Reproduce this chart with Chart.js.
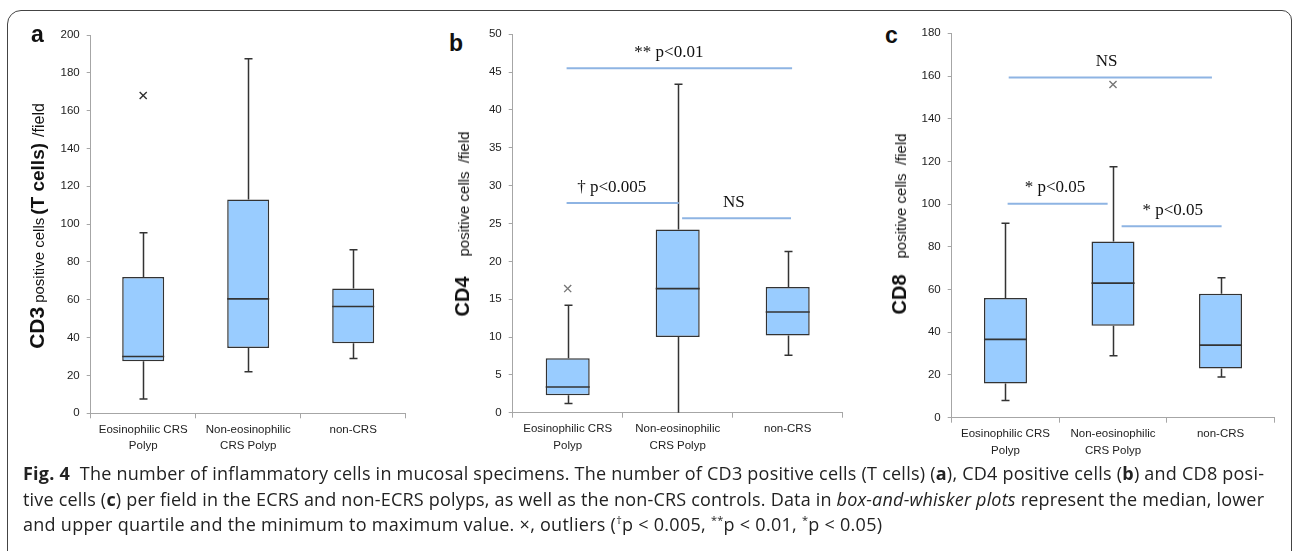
<!DOCTYPE html>
<html><head><meta charset="utf-8">
<script src="https://cdn.jsdelivr.net/npm/chart.js@4.4.0/dist/chart.umd.min.js"></script>
<style>
body{margin:0;background:#fff;width:1292px;height:551px;overflow:hidden;position:relative;font-family:"Liberation Sans",Arial,sans-serif;color:#111}
.frame{position:absolute;left:7px;top:10px;width:1285px;height:620px;border:1px solid #444;border-radius:14px 10px 0 0;box-sizing:border-box}
canvas{position:absolute;top:0}
.ytitle{position:absolute;white-space:nowrap;transform:translate(-50%,-50%) rotate(-90deg);transform-origin:center center;line-height:1}
.big{font-weight:bold;font-size:21px}
.sm{font-size:15px}
.letter{position:absolute;font-weight:bold;font-size:23px;line-height:1}
.cap{position:absolute;left:23px;font-family:"Open Sans",sans-serif;font-size:18px;line-height:25px;white-space:nowrap;color:#222}
.cap b{font-weight:bold}
.cap sup{font-size:11px;line-height:0}
</style></head>
<body>
<div class="frame"></div>
<canvas id="ca" width="390" height="470" style="left:40px"></canvas>
<canvas id="cb" width="390" height="470" style="left:470px"></canvas>
<canvas id="cc" width="387" height="470" style="left:905px"></canvas>

<div class="letter" style="left:31px;top:23px">a</div>
<div class="letter" style="left:449px;top:32px">b</div>
<div class="letter" style="left:885px;top:24px">c</div>

<div class="ytitle" style="left:36px;top:226px"><span class="big">CD3</span><span class="sm" style="margin-left:4px">positive cells</span><span class="big" style="margin-left:3px;font-size:19px">(T cells)</span><span class="sm" style="margin-left:6px;font-size:16px">/field</span></div>
<div class="ytitle" style="left:462px;top:224px"><span class="big" style="font-size:20px">CD4</span><span class="sm" style="margin-left:20px">positive cells &nbsp;/field</span></div>
<div class="ytitle" style="left:899px;top:224px"><span class="big" style="font-size:20px">CD8</span><span class="sm" style="margin-left:16px">positive cells &nbsp;/field</span></div>

<div class="cap" data-w="1241" style="top:461px"><b>Fig. 4</b>&nbsp; The number of inflammatory cells in mucosal specimens. The number of CD3 positive cells (T cells) (<b>a</b>), CD4 positive cells (<b>b</b>) and CD8 posi-</div>
<div class="cap" data-w="1241" style="top:487px">tive cells (<b>c</b>) per field in the ECRS and non-ECRS polyps, as well as the non-CRS controls. Data in <i>box-and-whisker plots</i> represent the median, lower</div>
<div class="cap" data-w="859" style="top:512px">and upper quartile and the minimum to maximum value. &times;, outliers (<sup>†</sup>p &lt; 0.005, <sup>**</sup>p &lt; 0.01, <sup>*</sup>p &lt; 0.05)</div>

<script>
// ---- data ----
const categories = [['Eosinophilic CRS','Polyp'],['Non-eosinophilic','CRS Polyp'],'non-CRS'];

const cd3Min = [7.5, 22, 29];
const cd3Q1  = [27.5, 34.5, 37];
const cd3Med = [30, 60.5, 56.5];
const cd3Q3  = [72, 113, 66];
const cd3Max = [95.5, 187.5, 86.5];
const cd3Out = [168, null, null];
const cd3Ticks = {min:0, max:200, step:20};

const cd4Min = [1.2, 0, 7.6];
const cd4Q1  = [2.3, 10, 10.2];
const cd4Med = [3.4, 16.4, 13.3];
const cd4Q3  = [7.2, 24.2, 16.6];
const cd4Max = [14.2, 43.4, 21.3];
const cd4Out = [16.4, null, null];
const cd4Ticks = {min:0, max:50, step:5};
const cd4Sig = [
  {from:-0.01, to:2.04, y:45.5, label:'** p<0.01', at:0.92},
  {from:-0.01, to:1.01, y:27.7, label:'\u2020 p<0.005', at:0.40},
  {from:1.04, to:2.03, y:25.7, label:'NS', at:1.51}
];

const cd8Min = [8, 29, 19];
const cd8Q1  = [16, 43, 23];
const cd8Med = [36.7, 63, 34];
const cd8Q3  = [56, 82.5, 58];
const cd8Max = [91, 117.5, 65.5];
const cd8Out = [null, 156, null];
const cd8Ticks = {min:0, max:180, step:20};
const cd8Sig = [
  {from:0.03, to:1.92, y:159.3, label:'NS', at:0.94},
  {from:0.02, to:0.95, y:100.2, label:'* p<0.05', at:0.46},
  {from:1.08, to:2.01, y:89.6, label:'* p<0.05', at:1.555}
];

// ---- caption fitting ----
document.querySelectorAll('.cap').forEach(el => {
  const target = parseFloat(el.dataset.w);
  const w = el.getBoundingClientRect().width;
  const n = el.textContent.length - 1;
  el.style.letterSpacing = ((target - w) / n) + 'px';
});

// ---- drawing helpers ----
const boxPlugin = {
  id: 'boxWhisker',
  beforeDatasetsDraw(chart) {
    const st = chart.options.plugins.boxWhisker;
    const {ctx} = chart; const y = chart.scales.y;
    const meta = chart.getDatasetMeta(0);
    ctx.save();
    ctx.strokeStyle = '#333'; ctx.lineWidth = 1.5; ctx.lineCap = 'butt';
    meta.data.forEach((bar, i) => {
      const x = Math.round(bar.x) + 0.5;
      const pMin = y.getPixelForValue(st.min[i]), pMax = y.getPixelForValue(st.max[i]);
      const pQ1 = y.getPixelForValue(st.q1[i]), pQ3 = y.getPixelForValue(st.q3[i]);
      ctx.beginPath();
      ctx.moveTo(x, pQ3); ctx.lineTo(x, pMax);
      ctx.moveTo(x, pQ1); ctx.lineTo(x, pMin);
      if (st.min[i] > st.floor) { ctx.moveTo(x - 4, pMin); ctx.lineTo(x + 4, pMin); }
      ctx.moveTo(x - 4, pMax); ctx.lineTo(x + 4, pMax);
      ctx.stroke();
    });
    ctx.restore();
  },
  afterDatasetsDraw(chart) {
    const st = chart.options.plugins.boxWhisker;
    const {ctx} = chart; const y = chart.scales.y; const xs = chart.scales.x;
    const meta = chart.getDatasetMeta(0);
    ctx.save();
    ctx.strokeStyle = '#333'; ctx.lineWidth = 1.6;
    meta.data.forEach((bar, i) => {
      const p = y.getPixelForValue(st.med[i]);
      ctx.beginPath();
      ctx.moveTo(bar.x - bar.width / 2, p); ctx.lineTo(bar.x + bar.width / 2, p);
      ctx.stroke();
    });
    (st.sig || []).forEach(s => {
      const py = y.getPixelForValue(s.y);
      ctx.strokeStyle = '#8eb4e3'; ctx.lineWidth = 2;
      ctx.beginPath();
      ctx.moveTo(xs.getPixelForValue(s.from), py); ctx.lineTo(xs.getPixelForValue(s.to), py);
      ctx.stroke();
      ctx.fillStyle = '#111';
      ctx.font = '17px "Liberation Serif", "Times New Roman", serif';
      ctx.textAlign = 'center'; ctx.textBaseline = 'middle';
      ctx.fillText(s.label, xs.getPixelForValue(s.at), py - 16);
    });
    ctx.restore();
  }
};

function makePanel(id, lay, d) {
  new Chart(document.getElementById(id), {
    type: 'bar',
    data: {
      labels: categories,
      datasets: [
        {
          data: d.q1.map((v, i) => [v, d.q3[i]]),
          backgroundColor: '#99ccff', borderColor: '#333', borderWidth: 1.5,
          borderSkipped: false, barPercentage: 0.4, categoryPercentage: 1
        },
        {
          type: 'line', data: d.out, showLine: false,
          pointStyle: 'crossRot', pointRadius: 5, pointBorderWidth: 1.4,
          pointBorderColor: d.outColor, pointBackgroundColor: d.outColor
        }
      ]
    },
    options: {
      responsive: false, animation: false, devicePixelRatio: 1,
      layout: { padding: { left: 0, top: lay.top, right: lay.right, bottom: 0 } },
      plugins: {
        legend: { display: false }, tooltip: { enabled: false },
        boxWhisker: { min: d.min, q1: d.q1, med: d.med, q3: d.q3, max: d.max, sig: d.sig, floor: d.ticks.min }
      },
      scales: {
        x: {
          afterFit: s => { s.height = lay.xh; },
          border: { display: true, color: '#a6a6a6', width: 1 },
          grid: { display: true, drawOnChartArea: false, drawTicks: true, tickLength: 5, color: '#a6a6a6', offset: true },
          ticks: { color: '#222', padding: 3, maxRotation: 0, autoSkip: false,
                   font: { family: '"Liberation Sans", Arial, sans-serif', size: 11.5, lineHeight: 1.45 } }
        },
        y: {
          min: d.ticks.min, max: d.ticks.max,
          afterFit: s => { s.width = lay.yw; },
          border: { display: true, color: '#a6a6a6', width: 1 },
          grid: { display: true, drawOnChartArea: false, drawTicks: true, tickLength: 4, color: '#a6a6a6' },
          ticks: { stepSize: d.ticks.step, color: '#222', padding: 7,
                   font: { family: '"Liberation Sans", Arial, sans-serif', size: 11.5 } }
        }
      }
    },
    plugins: [boxPlugin]
  });
}

makePanel('ca', {top: 35, right: 24.3, xh: 56.7, yw: 50.7},
  {min: cd3Min, q1: cd3Q1, med: cd3Med, q3: cd3Q3, max: cd3Max, out: cd3Out, ticks: cd3Ticks, outColor: '#333', sig: []});
makePanel('cb', {top: 34.3, right: 17.3, xh: 57.3, yw: 42.7},
  {min: cd4Min, q1: cd4Q1, med: cd4Med, q3: cd4Q3, max: cd4Max, out: cd4Out, ticks: cd4Ticks, outColor: '#777', sig: cd4Sig});
makePanel('cc', {top: 33.3, right: 17.7, xh: 52.3, yw: 46.7},
  {min: cd8Min, q1: cd8Q1, med: cd8Med, q3: cd8Q3, max: cd8Max, out: cd8Out, ticks: cd8Ticks, outColor: '#777', sig: cd8Sig});
</script>
</body></html>
